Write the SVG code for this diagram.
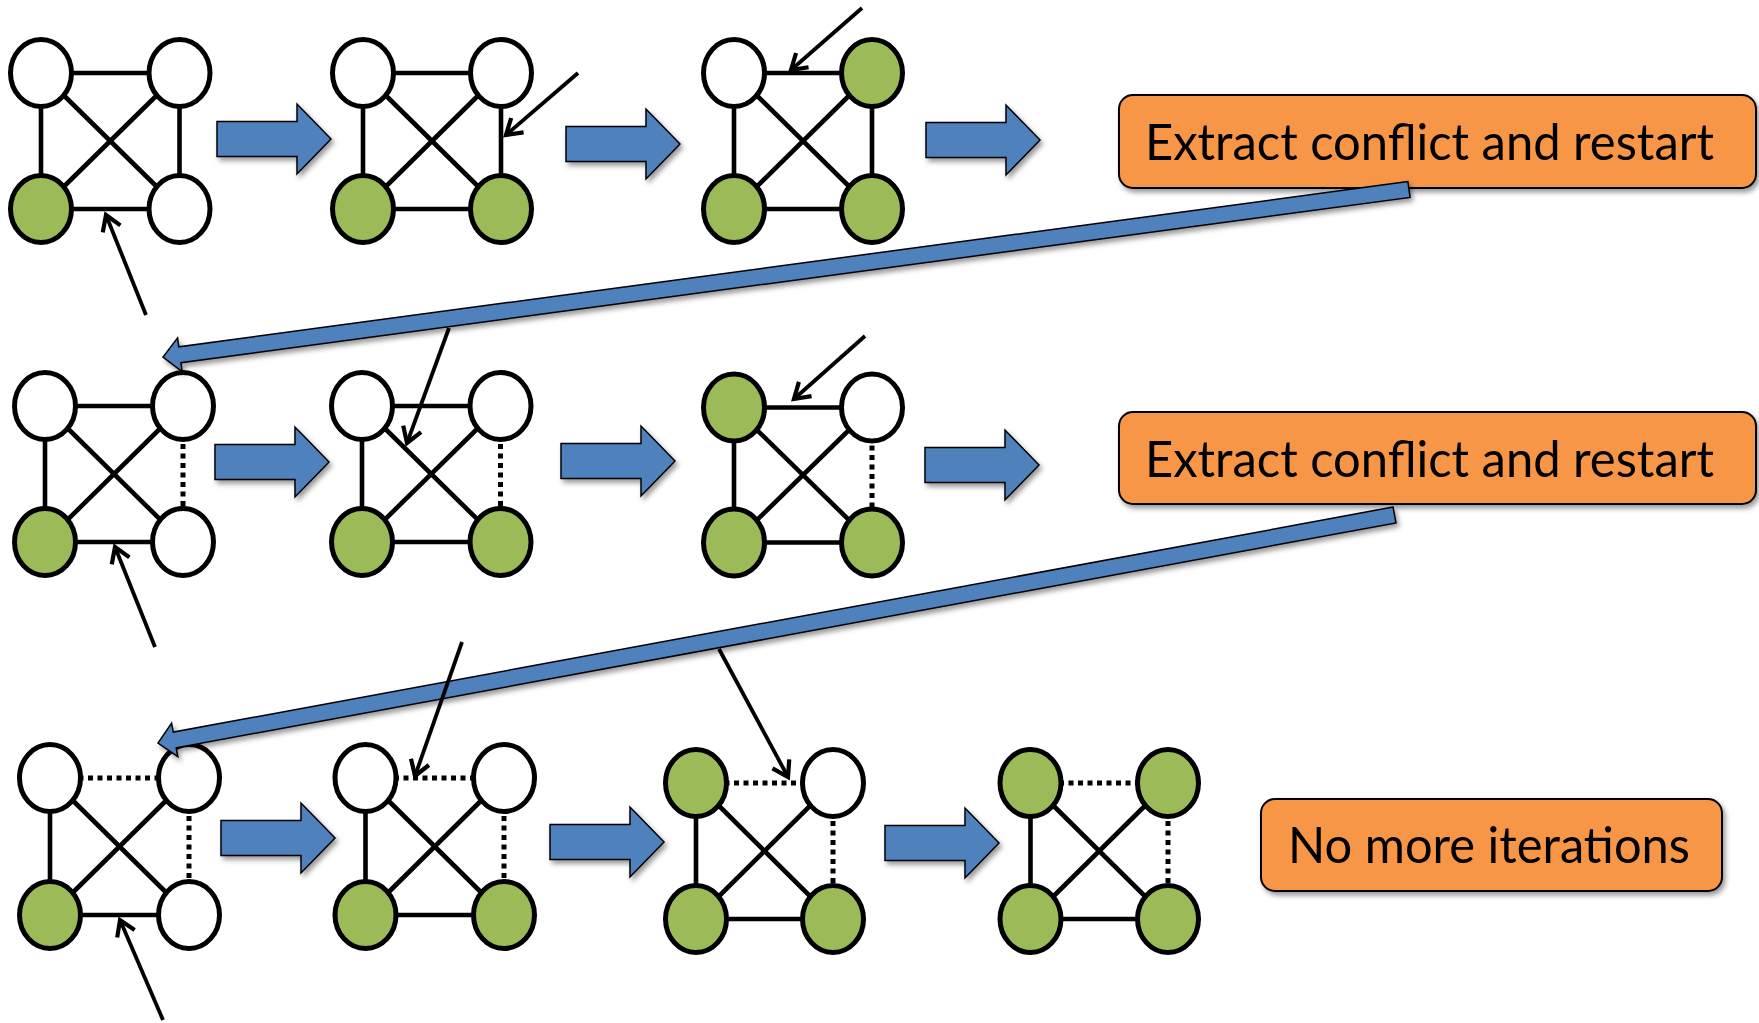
<svg xmlns="http://www.w3.org/2000/svg" xmlns:xlink="http://www.w3.org/1999/xlink" width="1759" height="1023" viewBox="0 0 1759 1023">
<style>
.w{fill:#ffffff;stroke:#000;stroke-width:5}
.g{fill:#9BBB59;stroke:#000;stroke-width:5}
.e{stroke:#000;stroke-width:4.6;fill:none}
.d{stroke:#000;stroke-width:5;fill:none;stroke-dasharray:5 4.5}
.ba{fill:#4F81BD;stroke:#000;stroke-width:1.5;filter:url(#sh)}
.la{fill:#4F81BD;stroke:#000;stroke-width:1.5;filter:url(#sh)}
.pa{stroke:#000;stroke-width:3.8;fill:none;marker-end:url(#ah)}
.box{fill:#F79646;stroke:#000;stroke-width:2;filter:url(#sh)}
.lbl{font-family:Lato,"Open Sans","Liberation Sans",sans-serif;font-size:51px;fill:#000}
</style>
<defs>
<filter id="sh" x="-10%" y="-30%" width="120%" height="170%">
<feDropShadow dx="2.5" dy="3.5" stdDeviation="2.5" flood-color="#000" flood-opacity="0.4"/>
</filter>
<marker id="ah" markerUnits="userSpaceOnUse" markerWidth="30" markerHeight="30" viewBox="-20 -15 25 30" refX="0" refY="0" orient="auto" overflow="visible">
<path d="M-15,-9.5 L0,0 L-15,9.5" fill="none" stroke="#000" stroke-width="4.2" stroke-linejoin="miter"/>
</marker>
<path id="blk" d="M0,-17.5 H80 V-35 L114,0 L80,35 V17.5 H0 Z"/>
</defs>
<rect width="1759" height="1023" fill="#ffffff"/>

<!-- Row 1 -->
<g id="graphA1">
<line class="e" x1="41" y1="73" x2="179.5" y2="73"/>
<line class="e" x1="41" y1="209" x2="179.5" y2="209"/>
<line class="e" x1="41" y1="73" x2="41" y2="209"/>
<line class="e" x1="179.5" y1="73" x2="179.5" y2="209"/>
<line class="e" x1="41" y1="73" x2="179.5" y2="209"/>
<line class="e" x1="179.5" y1="73" x2="41" y2="209"/>
<ellipse class="w" cx="41" cy="73" rx="30.5" ry="33.5"/>
<ellipse class="w" cx="179.5" cy="73" rx="30.5" ry="33.5"/>
<ellipse class="g" cx="41" cy="209" rx="30.5" ry="33.5"/>
<ellipse class="w" cx="179.5" cy="209" rx="30.5" ry="33.5"/>
</g>
<g id="graphA2">
<line class="e" x1="363" y1="73" x2="501" y2="73"/>
<line class="e" x1="363" y1="209" x2="501" y2="209"/>
<line class="e" x1="363" y1="73" x2="363" y2="209"/>
<line class="e" x1="501" y1="73" x2="501" y2="209"/>
<line class="e" x1="363" y1="73" x2="501" y2="209"/>
<line class="e" x1="501" y1="73" x2="363" y2="209"/>
<ellipse class="w" cx="363" cy="73" rx="30.5" ry="33.5"/>
<ellipse class="w" cx="501" cy="73" rx="30.5" ry="33.5"/>
<ellipse class="g" cx="363" cy="209" rx="30.5" ry="33.5"/>
<ellipse class="g" cx="501" cy="209" rx="30.5" ry="33.5"/>
</g>
<g id="graphA3">
<line class="e" x1="734" y1="73" x2="872" y2="73"/>
<line class="e" x1="734" y1="209" x2="872" y2="209"/>
<line class="e" x1="734" y1="73" x2="734" y2="209"/>
<line class="e" x1="872" y1="73" x2="872" y2="209"/>
<line class="e" x1="734" y1="73" x2="872" y2="209"/>
<line class="e" x1="872" y1="73" x2="734" y2="209"/>
<ellipse class="w" cx="734" cy="73" rx="30.5" ry="33.5"/>
<ellipse class="g" cx="872" cy="73" rx="30.5" ry="33.5"/>
<ellipse class="g" cx="734" cy="209" rx="30.5" ry="33.5"/>
<ellipse class="g" cx="872" cy="209" rx="30.5" ry="33.5"/>
</g>
<g id="box1">
<rect class="box" x="1119" y="95" width="637" height="93" rx="14"/>
<text class="lbl" x="1145" y="160" textLength="569" lengthAdjust="spacingAndGlyphs">Extract conflict and restart</text>
</g>

<!-- Row 2 -->
<g id="graphB1">
<line class="e" x1="45" y1="406" x2="183" y2="406"/>
<line class="e" x1="45" y1="542" x2="183" y2="542"/>
<line class="e" x1="45" y1="406" x2="45" y2="542"/>
<line class="d" x1="183" y1="406" x2="183" y2="542"/>
<line class="e" x1="45" y1="406" x2="183" y2="542"/>
<line class="e" x1="183" y1="406" x2="45" y2="542"/>
<ellipse class="w" cx="45" cy="406" rx="30.5" ry="33.5"/>
<ellipse class="w" cx="183" cy="406" rx="30.5" ry="33.5"/>
<ellipse class="g" cx="45" cy="542" rx="30.5" ry="33.5"/>
<ellipse class="w" cx="183" cy="542" rx="30.5" ry="33.5"/>
</g>
<g id="graphB2">
<line class="e" x1="362" y1="406" x2="500.5" y2="406"/>
<line class="e" x1="362" y1="542" x2="500.5" y2="542"/>
<line class="e" x1="362" y1="406" x2="362" y2="542"/>
<line class="d" x1="500.5" y1="406" x2="500.5" y2="542"/>
<line class="e" x1="362" y1="406" x2="500.5" y2="542"/>
<line class="e" x1="500.5" y1="406" x2="362" y2="542"/>
<ellipse class="w" cx="362" cy="406" rx="30.5" ry="33.5"/>
<ellipse class="w" cx="500.5" cy="406" rx="30.5" ry="33.5"/>
<ellipse class="g" cx="362" cy="542" rx="30.5" ry="33.5"/>
<ellipse class="g" cx="500.5" cy="542" rx="30.5" ry="33.5"/>
</g>
<g id="graphB3">
<line class="e" x1="734" y1="407.5" x2="872" y2="407.5"/>
<line class="e" x1="734" y1="542.5" x2="872" y2="542.5"/>
<line class="e" x1="734" y1="407.5" x2="734" y2="542.5"/>
<line class="d" x1="872" y1="407.5" x2="872" y2="542.5"/>
<line class="e" x1="734" y1="407.5" x2="872" y2="542.5"/>
<line class="e" x1="872" y1="407.5" x2="734" y2="542.5"/>
<ellipse class="g" cx="734" cy="407.5" rx="30.5" ry="33.5"/>
<ellipse class="w" cx="872" cy="407.5" rx="30.5" ry="33.5"/>
<ellipse class="g" cx="734" cy="542.5" rx="30.5" ry="33.5"/>
<ellipse class="g" cx="872" cy="542.5" rx="30.5" ry="33.5"/>
</g>
<g id="box2">
<rect class="box" x="1119" y="412" width="637" height="92" rx="14"/>
<text class="lbl" x="1145" y="477" textLength="569" lengthAdjust="spacingAndGlyphs">Extract conflict and restart</text>
</g>

<!-- Row 3 -->
<g id="graphC1">
<line class="d" x1="50" y1="778" x2="189" y2="778"/>
<line class="e" x1="50" y1="915" x2="189" y2="915"/>
<line class="e" x1="50" y1="778" x2="50" y2="915"/>
<line class="d" x1="189" y1="778" x2="189" y2="915"/>
<line class="e" x1="50" y1="778" x2="189" y2="915"/>
<line class="e" x1="189" y1="778" x2="50" y2="915"/>
<ellipse class="w" cx="50" cy="778" rx="30.5" ry="33.5"/>
<ellipse class="w" cx="189" cy="778" rx="30.5" ry="33.5"/>
<ellipse class="g" cx="50" cy="915" rx="30.5" ry="33.5"/>
<ellipse class="w" cx="189" cy="915" rx="30.5" ry="33.5"/>
</g>
<g id="graphC2">
<line class="d" x1="365.5" y1="778" x2="504" y2="778"/>
<line class="e" x1="365.5" y1="915" x2="504" y2="915"/>
<line class="e" x1="365.5" y1="778" x2="365.5" y2="915"/>
<line class="d" x1="504" y1="778" x2="504" y2="915"/>
<line class="e" x1="365.5" y1="778" x2="504" y2="915"/>
<line class="e" x1="504" y1="778" x2="365.5" y2="915"/>
<ellipse class="w" cx="365.5" cy="778" rx="30.5" ry="33.5"/>
<ellipse class="w" cx="504" cy="778" rx="30.5" ry="33.5"/>
<ellipse class="g" cx="365.5" cy="915" rx="30.5" ry="33.5"/>
<ellipse class="g" cx="504" cy="915" rx="30.5" ry="33.5"/>
</g>
<g id="graphC3">
<line class="d" x1="696" y1="783" x2="833" y2="783"/>
<line class="e" x1="696" y1="919" x2="833" y2="919"/>
<line class="e" x1="696" y1="783" x2="696" y2="919"/>
<line class="d" x1="833" y1="783" x2="833" y2="919"/>
<line class="e" x1="696" y1="783" x2="833" y2="919"/>
<line class="e" x1="833" y1="783" x2="696" y2="919"/>
<ellipse class="g" cx="696" cy="783" rx="30.5" ry="33.5"/>
<ellipse class="w" cx="833" cy="783" rx="30.5" ry="33.5"/>
<ellipse class="g" cx="696" cy="919" rx="30.5" ry="33.5"/>
<ellipse class="g" cx="833" cy="919" rx="30.5" ry="33.5"/>
</g>
<g id="graphC4">
<line class="d" x1="1030.5" y1="783" x2="1168" y2="783"/>
<line class="e" x1="1030.5" y1="919" x2="1168" y2="919"/>
<line class="e" x1="1030.5" y1="783" x2="1030.5" y2="919"/>
<line class="d" x1="1168" y1="783" x2="1168" y2="919"/>
<line class="e" x1="1030.5" y1="783" x2="1168" y2="919"/>
<line class="e" x1="1168" y1="783" x2="1030.5" y2="919"/>
<ellipse class="g" cx="1030.5" cy="783" rx="30.5" ry="33.5"/>
<ellipse class="g" cx="1168" cy="783" rx="30.5" ry="33.5"/>
<ellipse class="g" cx="1030.5" cy="919" rx="30.5" ry="33.5"/>
<ellipse class="g" cx="1168" cy="919" rx="30.5" ry="33.5"/>
</g>
<g id="box3">
<rect class="box" x="1261" y="799" width="461" height="92" rx="14"/>
<text class="lbl" x="1288" y="863" textLength="402" lengthAdjust="spacingAndGlyphs">No more iterations</text>
</g>

<g id="connectors">
<use href="#blk" class="ba" transform="translate(217,139)"/>
<use href="#blk" class="ba" transform="translate(566,144)"/>
<use href="#blk" class="ba" transform="translate(926,140)"/>
<use href="#blk" class="ba" transform="translate(215,462)"/>
<use href="#blk" class="ba" transform="translate(561,461)"/>
<use href="#blk" class="ba" transform="translate(925,465)"/>
<use href="#blk" class="ba" transform="translate(221,838)"/>
<use href="#blk" class="ba" transform="translate(550,842)"/>
<use href="#blk" class="ba" transform="translate(885,843)"/>
<polygon class="la" points="1407.9,181.6 178.8,346.8 177.6,337.9 163,357 182.1,371.6 180.9,362.7 1410.1,197.4"/>
<polygon class="la" points="1393.1,507.1 173.3,732.1 171.6,723.2 158,743 177.8,756.6 176.2,747.8 1396,522.9"/>
<line class="pa" x1="146" y1="315" x2="106" y2="215"/>
<line class="pa" x1="578" y1="73" x2="506" y2="135"/>
<line class="pa" x1="862" y1="8" x2="791" y2="70"/>
<line class="pa" x1="155" y1="647" x2="115" y2="547"/>
<line class="pa" x1="449" y1="328" x2="407" y2="443"/>
<line class="pa" x1="865" y1="336" x2="794" y2="399"/>
<line class="pa" x1="163" y1="1020" x2="120" y2="920"/>
<line class="pa" x1="462" y1="642" x2="415" y2="776"/>
<line class="pa" x1="719" y1="649" x2="788" y2="777"/>
</g>
</svg>
